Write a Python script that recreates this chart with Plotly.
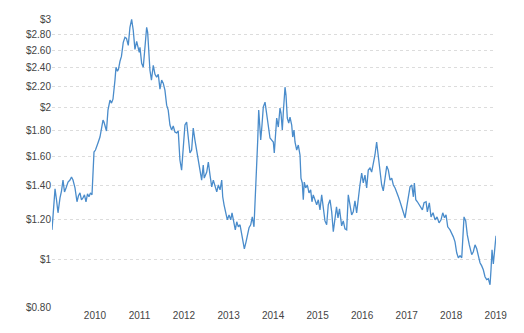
import plotly.graph_objects as go
import pandas as pd
import math

# decimal-year time stamps of the observations
time_dec = [
    2009.534, 2009.568, 2009.602, 2009.635, 2009.669, 2009.714, 2009.748, 2009.781, 2009.815, 2009.849,
    2009.894, 2009.938, 2009.972, 2010.006, 2010.051, 2010.096, 2010.129, 2010.163, 2010.197, 2010.230,
    2010.264, 2010.298, 2010.332, 2010.365, 2010.399, 2010.433, 2010.455, 2010.478, 2010.511, 2010.534,
    2010.567, 2010.612, 2010.646, 2010.680, 2010.702, 2010.736, 2010.758, 2010.792, 2010.837, 2010.871,
    2010.904, 2010.949, 2010.972, 2011.005, 2011.028, 2011.062, 2011.095, 2011.136, 2011.174, 2011.208,
    2011.248, 2011.286, 2011.324, 2011.360, 2011.398, 2011.437, 2011.473, 2011.495, 2011.511, 2011.549,
    2011.585, 2011.623, 2011.661, 2011.684, 2011.713, 2011.735, 2011.769, 2011.810, 2011.848, 2011.886,
    2011.922, 2011.960, 2011.998, 2012.034, 2012.072, 2012.111, 2012.146, 2012.185, 2012.223, 2012.259,
    2012.297, 2012.335, 2012.371, 2012.409, 2012.447, 2012.483, 2012.522, 2012.560, 2012.596, 2012.634,
    2012.672, 2012.708, 2012.746, 2012.784, 2012.820, 2012.859, 2012.897, 2012.933, 2012.955, 2013.009,
    2013.045, 2013.083, 2013.121, 2013.157, 2013.195, 2013.234, 2013.270, 2013.308, 2013.346, 2013.368,
    2013.398, 2013.436, 2013.472, 2013.510, 2013.548, 2013.577, 2013.615, 2013.651, 2013.683, 2013.719,
    2013.757, 2013.795, 2013.831, 2013.854, 2013.892, 2013.921, 2013.959, 2013.997, 2014.033, 2014.071,
    2014.101, 2014.132, 2014.155, 2014.177, 2014.222, 2014.251, 2014.280, 2014.319, 2014.357, 2014.393,
    2014.431, 2014.469, 2014.505, 2014.527, 2014.559, 2014.581, 2014.617, 2014.655, 2014.678, 2014.707,
    2014.730, 2014.768, 2014.790, 2014.819, 2014.851, 2014.880, 2014.918, 2014.941, 2014.970, 2014.992,
    2015.031, 2015.067, 2015.105, 2015.127, 2015.156, 2015.179, 2015.201, 2015.233, 2015.269, 2015.307,
    2015.345, 2015.374, 2015.403, 2015.442, 2015.480, 2015.516, 2015.554, 2015.592, 2015.628, 2015.666,
    2015.704, 2015.740, 2015.779, 2015.817, 2015.853, 2015.891, 2015.925, 2015.958, 2015.992, 2016.041,
    2016.077, 2016.116, 2016.154, 2016.190, 2016.228, 2016.266, 2016.302, 2016.340, 2016.378, 2016.414,
    2016.452, 2016.491, 2016.527, 2016.565, 2016.603, 2016.639, 2016.677, 2016.715, 2016.751, 2016.789,
    2016.827, 2016.864, 2016.902, 2016.940, 2016.976, 2017.014, 2017.052, 2017.088, 2017.126, 2017.164,
    2017.200, 2017.239, 2017.277, 2017.313, 2017.351, 2017.389, 2017.425, 2017.463, 2017.501, 2017.537,
    2017.575, 2017.614, 2017.650, 2017.672, 2017.704, 2017.740, 2017.778, 2017.816, 2017.852, 2017.890,
    2017.935, 2017.964, 2018.009, 2018.047, 2018.092, 2018.137, 2018.182, 2018.227, 2018.272, 2018.310,
    2018.350, 2018.384, 2018.422, 2018.474, 2018.512, 2018.548, 2018.586, 2018.624, 2018.660, 2018.699,
    2018.737, 2018.759, 2018.788, 2018.826, 2018.862, 2018.907, 2018.961, 2018.997, 2019.036, 2019.074,
    2019.110, 2019.148, 2019.186, 2019.222, 2019.260, 2019.298, 2019.334, 2019.373, 2019.395, 2019.418,
    2019.447, 2019.485, 2019.507,
]

# price in US$ per unit
price = [
    1.143, 1.241, 1.379, 1.312, 1.236, 1.324, 1.367, 1.436, 1.360, 1.385,
    1.423, 1.436, 1.456, 1.436, 1.385, 1.300, 1.336, 1.354, 1.312, 1.324,
    1.342, 1.300, 1.348, 1.330, 1.354, 1.342, 1.469, 1.633, 1.648, 1.679,
    1.702, 1.749, 1.806, 1.890, 1.873, 1.815, 1.798, 1.979, 2.071, 2.043,
    2.080, 2.270, 2.408, 2.364, 2.386, 2.475, 2.531, 2.700, 2.762, 2.749,
    2.662, 2.892, 3.000, 2.853, 2.614, 2.712, 2.626, 2.579, 2.638, 2.452,
    2.408, 2.626, 2.892, 2.827, 2.543, 2.375, 2.270, 2.430, 2.332, 2.301,
    2.332, 2.178, 2.270, 2.239, 2.168, 2.024, 1.979, 1.848, 1.806, 1.840,
    1.790, 1.782, 1.798, 1.574, 1.503, 1.648, 1.848, 1.873, 1.725, 1.626,
    1.648, 1.823, 1.725, 1.648, 1.574, 1.517, 1.436, 1.538, 1.449, 1.490,
    1.560, 1.469, 1.392, 1.436, 1.404, 1.360, 1.404, 1.373, 1.436, 1.330,
    1.282, 1.236, 1.197, 1.224, 1.197, 1.236, 1.180, 1.143, 1.186, 1.159,
    1.170, 1.117, 1.058, 1.048, 1.082, 1.107, 1.154, 1.170, 1.213, 1.159,
    1.312, 1.538, 1.725, 1.979, 1.725, 1.848, 2.006, 2.052, 1.934, 1.865,
    1.741, 1.725, 1.710, 1.626, 1.806, 1.908, 1.831, 1.997, 1.952, 1.806,
    1.961, 2.198, 2.119, 1.908, 1.865, 1.917, 1.848, 1.749, 1.806, 1.710,
    1.648, 1.686, 1.611, 1.449, 1.417, 1.312, 1.423, 1.385, 1.404, 1.354,
    1.373, 1.300, 1.342, 1.312, 1.282, 1.312, 1.253, 1.342, 1.270, 1.191,
    1.170, 1.282, 1.312, 1.241, 1.133, 1.224, 1.270, 1.208, 1.259, 1.164,
    1.191, 1.148, 1.143, 1.342, 1.270, 1.224, 1.241, 1.306, 1.236, 1.324,
    1.404, 1.483, 1.417, 1.469, 1.385, 1.503, 1.517, 1.490, 1.538, 1.611,
    1.710, 1.611, 1.483, 1.404, 1.367, 1.436, 1.531, 1.503, 1.436, 1.449,
    1.404, 1.385, 1.360, 1.330, 1.300, 1.270, 1.241, 1.208, 1.270, 1.342,
    1.392, 1.404, 1.330, 1.417, 1.312, 1.300, 1.282, 1.270, 1.253, 1.294,
    1.300, 1.241, 1.294, 1.213, 1.236, 1.197, 1.213, 1.180, 1.197, 1.236,
    1.208, 1.224, 1.159, 1.143, 1.127, 1.107, 1.082, 1.029, 1.006, 1.015,
    1.006, 1.107, 1.213, 1.191, 1.117, 1.067, 1.020, 1.034, 1.067, 1.048,
    1.010, 0.983, 0.969, 0.952, 0.922, 0.910, 0.914, 0.889, 0.952, 1.043,
    0.978, 1.092, 1.112,
]

y_tick_values = [0.8, 1.0, 1.2, 1.4, 1.6, 1.8, 2.0, 2.2, 2.4, 2.6, 2.8, 3.0]
y_tick_labels = ["$0.80", "$1", "$1.20", "$1.40", "$1.60", "$1.80", "$2",
                 "$2.20", "$2.40", "$2.60", "$2.80", "$3"]
x_tick_years = [2010, 2011, 2012, 2013, 2014, 2015, 2016, 2017, 2018, 2019]


def dec_to_date(t):
    yr = int(math.floor(t))
    frac = t - yr
    return pd.Timestamp(yr, 1, 1) + pd.Timedelta(days=frac * 365.25)


dates = [dec_to_date(t) for t in time_dec]
x_tick_pos = [dec_to_date(y + 0.5) for y in x_tick_years]
x_tick_text = [str(y) for y in x_tick_years]

fig = go.Figure()
fig.add_trace(go.Scatter(
    x=dates, y=price, mode="lines",
    line=dict(color="#4a8ccb", width=1.3),
    showlegend=False, hoverinfo="x+y",
))

font = dict(family="Liberation Sans, Arial, sans-serif", size=10, color="#444444")

# the page body adds an 8px margin around the figure
fig.update_layout(
    width=508, height=317,
    margin=dict(l=44, r=20, t=11, b=17),
    paper_bgcolor="white", plot_bgcolor="white",
    font=font,
    xaxis=dict(
        type="date",
        range=[dates[0], dates[-1]],
        tickvals=x_tick_pos, ticktext=x_tick_text,
        showgrid=False, showline=False, zeroline=False,
        ticks="", tickfont=font, automargin=False,
    ),
    yaxis=dict(
        type="log",
        range=[math.log10(0.799), math.log10(3.004)],
        tickvals=y_tick_values, ticktext=y_tick_labels,
        showgrid=True, gridcolor="#dcdcdc", griddash="dot", gridwidth=1,
        showline=False, zeroline=False, ticks="", tickfont=font, automargin=False,
    ),
)

fig.write_html("out.html")
